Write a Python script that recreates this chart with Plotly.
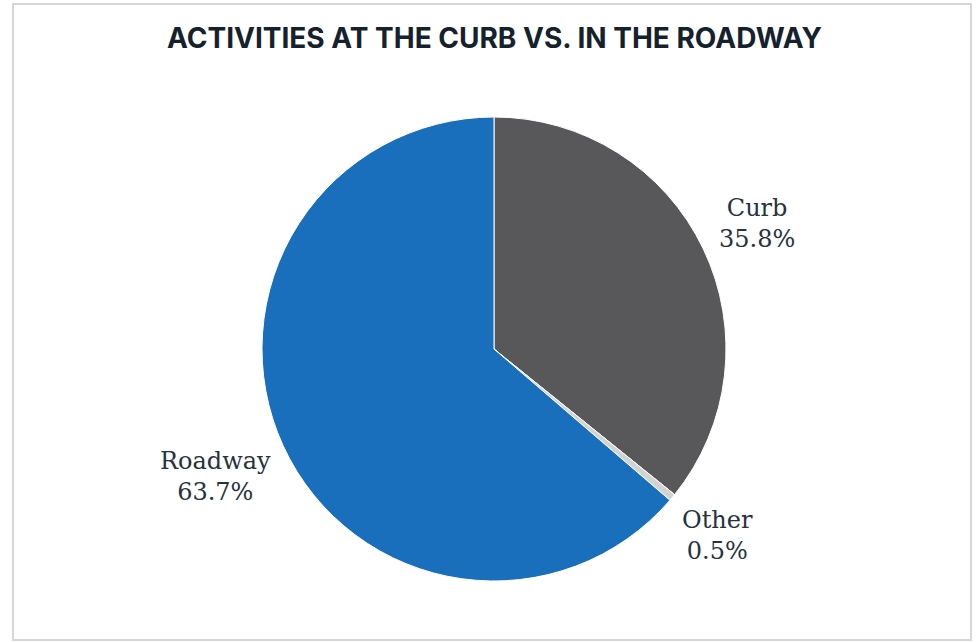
import math
import plotly.graph_objects as go

# Share of activities by location
categories = ["Curb", "Other", "Roadway"]
shares = [35.8, 0.5, 63.7]
slice_colors = ["#58585a", "#d3d3d3", "#1a6fbd"]

W, H = 976, 642
cx, cy, r = 494, 349, 232          # pie centre and radius in pixels
label_gap = 1.095                  # inner edge of label boxes, as a multiple of radius
label_size = 24
char_w = 0.62 * label_size         # approximate glyph advance of the label font

fig = go.Figure(go.Pie(
    labels=categories,
    values=shares,
    sort=False,
    direction="clockwise",
    rotation=0,
    marker=dict(colors=slice_colors, line=dict(color="#ffffff", width=1)),
    textinfo="none",
    hoverinfo="label+percent",
    showlegend=False,
    domain=dict(x=[(cx - r) / W, (cx + r) / W],
                y=[1 - (cy + r) / H, 1 - (cy - r) / H]),
))

# Place each label outside its slice along the mid-angle, pushed out by half its width
total = sum(shares)
cum = 0.0
annotations = []
for name, val in zip(categories, shares):
    mid = (cum + val / 2) / total * 2 * math.pi
    cum += val
    lines = [name, f"{val:.1f}%"]
    half_w = max(len(s) for s in lines) * char_w / 2
    dist = label_gap * r + half_w
    px = cx + dist * math.sin(mid)
    py = cy - dist * math.cos(mid)
    annotations.append(dict(
        x=px / W, y=1 - py / H, xref="paper", yref="paper",
        text="<br>".join(lines), showarrow=False,
        xanchor="center", yanchor="middle", align="center",
        font=dict(family="DejaVu Serif, serif", size=label_size, color="#27323d"),
    ))

annotations.append(dict(
    x=cx / W, y=1 - 38 / H, xref="paper", yref="paper",
    text="<b>ACTIVITIES AT THE CURB VS. IN THE ROADWAY</b>", showarrow=False,
    xanchor="center", yanchor="middle",
    font=dict(family="Inter, sans-serif", size=28, color="#15222e"),
))

fig.update_layout(
    width=W, height=H,
    margin=dict(l=0, r=0, t=0, b=0),
    paper_bgcolor="#ffffff",
    plot_bgcolor="#ffffff",
    annotations=annotations,
    shapes=[dict(type="rect", xref="paper", yref="paper",
                 x0=13 / W, x1=971 / W, y0=1 - 640 / H, y1=1 - 4 / H,
                 line=dict(color="#d6d6d6", width=2))],
)

fig.write_html("out.html")
